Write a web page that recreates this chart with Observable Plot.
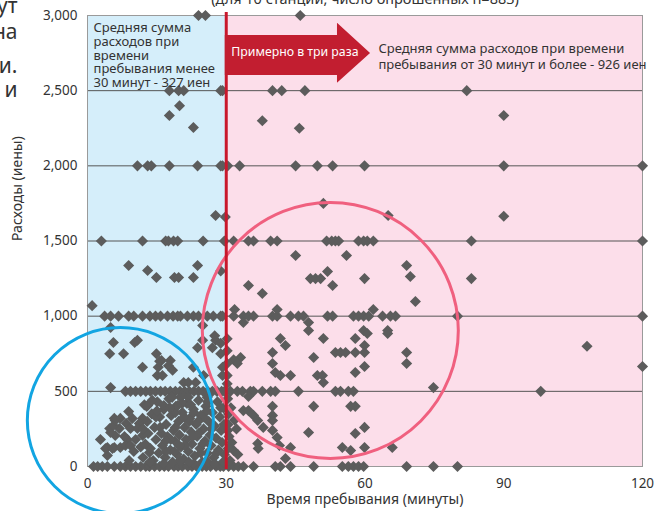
<!DOCTYPE html>
<html><head><meta charset="utf-8">
<script src="https://cdn.jsdelivr.net/npm/d3@7"></script>
<script src="https://cdn.jsdelivr.net/npm/@observablehq/plot@0.6"></script>
<style>body{margin:0;background:#fff;} #chart svg{overflow:visible;display:block}</style>
</head><body><div id="chart"></div>
<script>
// Tick labels
const xTicks = [0, 30, 60, 90, 120];
const yTicks = [0, 500, 1000, 1500, 2000, 2500, 3000];

// Texts
const titleText = "(для 10 станций, число опрошенных n=883)";
const xTitle = "Время пребывания (минуты)";
const yTitle = "Расходы (иены)";
const leftNote = "Средняя сумма\nрасходов при\nвремени\nпребывания менее\n30 минут - 327 иен";
const rightNote = "Средняя сумма расходов при времени\nпребывания от 30 минут и более - 926 иен";
const arrowText = "Примерно в три раза";
const sideFragments = ["ут", "на", "и.", "и"];

// Responses that sit exactly on round amounts (minutes of stay)
const row0 = [1.3, 2.2, 3.2, 4.3, 5.8, 7.1, 8.2, 9.3, 10.4, 11.5, 12.6, 13.4, 14.5, 15.6, 16.6, 17.5, 18.7, 19.6, 20.5, 21.7, 22.6, 23.6, 24.8, 25.7, 26.6, 27.8, 28.7,
  29.4, 30.5, 31.6, 32.6, 33.7, 35.9, 40.6, 41.7, 43.9, 48.9, 55.1, 56.4, 57.5, 58.6, 59.7, 69, 74.8, 80];
const row500 = [8.2, 9.3, 10.4, 11.5, 12.6, 13.6, 14.7, 15.8, 16.8, 17.9, 19, 20, 21, 22, 23, 24, 25, 26, 27, 28, 29, 29.6,
  30.9, 32.4, 33.5, 35.2, 35.9, 37.8, 39.6, 40.6, 45.6, 53.6, 54.7, 56.4, 57.5, 98];
const row1000 = [3.7, 5, 6.7, 8.9, 10, 11.9, 13.5, 14.7, 15.8, 17.3, 18.5, 19.5, 20.1, 21.6, 22.9, 24, 25.9, 27.2, 28.8,
  29.2, 31.6, 33.7, 34.8, 35.9, 40, 41, 43.9, 45.6, 46.7, 51.9, 53, 57.5, 58.6, 59.7, 60.8, 63.8, 65.5, 66.6, 80, 120];
const row1500 = [3, 11.9, 16.9, 17.5, 18.6, 19.5, 25, 29.6, 31.6, 34.8, 35.9, 39.6, 41, 51.7, 52.8, 53.6, 54.3, 58.6, 59.7, 60.5, 61.8, 83, 120];
const row2000 = [10.8, 13, 13.8, 17.7, 23.8, 28.8, 29.2, 30.3, 32.9, 45, 49.7, 53, 59.9, 90, 120];
const row2500 = [17.7, 19.7, 20.8, 28.8, 29.2, 40, 42, 47, 82];
const row3000 = [24, 25.5, 46];

// Other responses [minutes, yen]
const upperScatter = [[19.9, 2400], [17.7, 2335], [22.9, 2255], [37.8, 2300], [45.8, 2250], [90, 2335],
  [27.7, 1670], [29.8, 1660], [51, 1750], [65, 1670], [90, 1665],
  [8.9, 1337], [23.8, 1337], [13, 1304], [14.9, 1257], [18.8, 1257], [19.7, 1257], [22.9, 1257], [28.8, 1300], [1, 1070],
  [45, 1404], [56, 1404], [69, 1337], [51.9, 1297], [69.8, 1264], [48.2, 1250], [49.3, 1250], [50.4, 1250], [59.9, 1250],
  [53, 1204], [34.8, 1204], [37.8, 1151], [70.9, 1098], [31.8, 1044], [41, 1044], [61.8, 1044], [83, 1250]];
const midScatter = [[33.7, 958], [47.8, 958], [47.8, 905], [59.7, 905], [64.9, 905], [60.5, 885], [64.9, 885], [41.7, 851],
  [51, 851], [57.9, 851], [42.8, 805], [59.9, 805], [40, 758], [53.6, 758], [54.7, 758], [55.8, 758], [57.9, 758], [59.9, 758],
  [69, 758], [48.9, 725], [33.1, 725], [31.6, 710], [40, 685], [32.4, 685], [69, 685], [59.9, 665], [40.6, 625], [57.9, 625],
  [41.7, 605], [43.9, 605], [49.7, 605], [50.8, 605], [51, 559], [74.8, 525], [108, 800], [120, 665],
  [30.2, 850], [30.2, 770], [30.2, 685], [30.2, 605], [30.2, 550],
  [5, 925], [24.9, 938], [5.6, 825], [10.2, 825], [10.8, 840], [24.9, 840], [27.7, 840], [23.8, 790], [27, 790], [4.8, 750],
  [7.8, 750], [14.9, 750], [28.8, 750], [16, 705], [17.9, 705], [11.9, 660], [15.3, 660], [22.9, 660], [29.2, 660], [15.1, 605],
  [16.2, 605], [25.1, 605], [29.2, 605], [20.8, 559], [21.8, 559], [23.4, 559], [5, 525], [27.5, 870], [28.8, 820],
  [15.6, 700], [17.5, 670], [18.4, 640]];
const lowScatter = [[34.8, 466], [40, 400], [48.9, 400], [56.9, 400], [57.9, 400], [33.7, 372], [34.8, 372], [35.9, 340],
  [40, 340], [36.8, 306], [40, 306], [38, 260], [59.9, 260], [40, 240], [30.3, 240], [47.8, 226], [57.9, 220], [41, 193],
  [36.8, 153], [43.9, 126], [55.1, 126], [59.9, 126], [65.9, 126], [56.9, 106], [31.6, 106], [42.8, 53], [36.9, 120], [41.5, 140],
  [30.3, 450], [31, 390], [30.5, 350], [31.8, 310], [30.4, 280], [32.2, 250], [30.6, 200], [31.2, 160], [30.4, 120], [32.5, 80], [30.8, 40],
  [12.8, 400], [8.9, 366], [5.8, 320], [7.1, 320], [9.7, 320], [11.9, 320], [8.4, 286], [11.2, 286], [4.8, 253], [6.9, 253],
  [9.3, 253], [10.8, 253], [6, 206], [11.9, 206], [2.8, 180], [8.6, 180], [10.4, 180], [4.3, 126], [5.8, 126], [7.1, 126],
  [8.2, 140], [9.3, 140], [11.5, 130], [13.4, 93], [4.3, 73], [3.9, 120], [5.4, 120], [5, 226], [5.6, 273], [6, 306],
  [8, 200], [10, 100], [12, 60], [9, 40]];
const denseScatter = [[12.3, 410], [12.9, 300], [13.1, 220], [13.6, 120], [13.9, 350], [14.2, 40], [14.5, 260], [14.8, 180],
  [15.1, 430], [15.4, 90], [15.6, 330], [16, 220], [16.2, 140], [16.5, 380], [16.8, 60], [17, 280], [17.3, 200], [17.6, 450],
  [17.9, 110], [18.1, 340], [18.4, 30], [18.6, 240], [18.9, 170], [19.1, 400], [19.4, 80], [19.7, 300], [19.9, 210], [20.2, 130],
  [20.5, 360], [20.8, 50], [21, 260], [21.3, 180], [21.5, 420], [21.8, 100], [22.1, 320], [22.4, 230], [22.6, 150], [22.9, 380],
  [23.2, 70], [23.5, 280], [23.7, 200], [24, 440], [24.3, 120], [24.5, 340], [24.8, 30], [25.1, 250], [25.4, 170], [25.6, 400],
  [25.9, 90], [26.2, 300], [26.5, 210], [26.7, 140], [27, 360], [27.3, 60], [27.5, 270], [27.8, 190], [28.1, 430], [28.3, 110],
  [28.6, 330], [28.9, 240], [29.1, 160], [29.4, 390], [29.6, 80], [29.5, 280],
  [17, 100], [18, 180], [19, 260], [20, 40], [21, 140], [22, 300], [23, 20], [24, 220], [25, 330], [26, 30], [23, 360],
  [20.5, 420], [16.5, 20], [27.5, 20], [19, 360], [24.5, 90], [20.1, 460], [21.8, 460], [25.9, 460], [13, 406], [16.5, 406], [19.5, 406],
  [13.5, 30], [14.8, 330], [15.7, 260], [16.9, 170], [17.8, 390], [18.8, 100], [19.8, 140], [20.9, 330], [21.9, 30], [22.8, 200],
  [23.9, 300], [24.9, 150], [25.8, 370], [26.8, 250], [27.9, 90], [28.8, 390], [29.3, 30], [26, 430], [22.3, 410], [18.3, 460],
  [15, 370], [14, 440], [12, 250], [12.5, 150]];

const rows = [[0, row0], [500, row500], [1000, row1000], [1500, row1500], [2000, row2000], [2500, row2500], [3000, row3000]];
const points = [
  ...rows.flatMap(([yen, ms]) => ms.map(m => ({m, yen}))),
  ...[...upperScatter, ...midScatter, ...lowScatter, ...denseScatter].map(([m, yen]) => ({m, yen}))
];

// Arrow outline (annotation) in data units
const arrow = [
  {m: 29.8, lo: 2601, hi: 2867},
  {m: 54.05, lo: 2601, hi: 2867},
  {m: 54.05, lo: 2550, hi: 2949},
  {m: 61.2, lo: 2748, hi: 2748}
];

const fontFamily = "'Noto Sans', 'Open Sans', sans-serif";
const textColor = "#333";

const plot = Plot.plot({
  width: 656,
  height: 511,
  marginLeft: 87,
  marginRight: 14,
  marginTop: 15,
  marginBottom: 45,
  style: {fontFamily, fontSize: "13.5px", color: textColor, background: "#fff", overflow: "visible"},
  x: {domain: [0, 120], ticks: xTicks, tickSize: 0, tickPadding: 12, label: null},
  y: {domain: [0, 3000], ticks: yTicks, tickSize: 0, tickPadding: 10, tickFormat: d3.format(","), label: null},
  marks: [
    Plot.rect([{a: 0, b: 30}], {x1: "a", x2: "b", y1: 0, y2: 3000, fill: "#d5eefa"}),
    Plot.rect([{a: 30, b: 120}], {x1: "a", x2: "b", y1: 0, y2: 3000, fill: "#fcdeea"}),
    Plot.ruleY(yTicks.filter(d => d < 3000), {stroke: "#555", strokeWidth: 1}),
    Plot.frame({stroke: "#9a9a9a", strokeWidth: 1}),
    Plot.dot(points, {x: "m", y: "yen", symbol: "diamond2", r: 5, fill: "#5c5c5c"}),
    Plot.dot([{m: 52.5, yen: 905}], {x: "m", y: "yen", r: 128, stroke: "#f0607f", strokeWidth: 3, fill: "none"}),
    Plot.dot([{m: 7.1, yen: 306}], {x: "m", y: "yen", r: 93, stroke: "#12a5e2", strokeWidth: 3, fill: "none"}),
    Plot.ruleX([30], {y1: -20, y2: 3020, stroke: "#c8182c", strokeWidth: 3}),
    Plot.areaY(arrow, {x: "m", y1: "lo", y2: "hi", fill: "#c21e30", curve: "linear"}),
    Plot.text([arrowText], {x: 31.1, y: 2754, textAnchor: "start", lineAnchor: "middle", fill: "#fff", fontSize: 12.3}),
    Plot.text([leftNote], {x: 1.3, y: 2953, textAnchor: "start", lineAnchor: "top", fontSize: 13, lineHeight: 1.05, fill: textColor}),
    Plot.text([rightNote], {x: 62.9, y: 2822, textAnchor: "start", lineAnchor: "top", fontSize: 13, lineHeight: 1.2, fill: textColor}),
    Plot.text([xTitle], {frameAnchor: "bottom", dy: 37, fontSize: 14, fill: textColor}),
    Plot.text([yTitle], {frameAnchor: "left", dx: -70, rotate: -90, fontSize: 14, fill: textColor}),
    Plot.text([titleText], {frameAnchor: "top", dy: -12, lineAnchor: "bottom", fontSize: 14.5, fill: textColor}),
    ...sideFragments.map((t, i) => Plot.text([t], {frameAnchor: "top-left", dx: -70, dy: [-3, 23, 57, 81][i],
      textAnchor: "end", lineAnchor: "bottom", fontSize: 21, fill: textColor}))
  ]
});
document.getElementById("chart").append(plot);
</script>
</body></html>
